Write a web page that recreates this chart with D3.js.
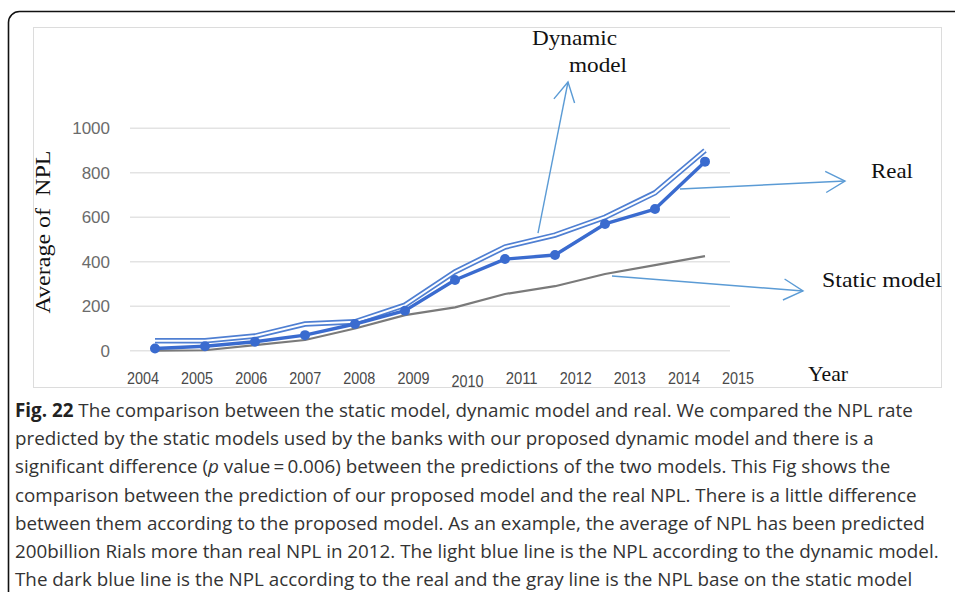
<!DOCTYPE html>
<html><head><meta charset="utf-8">
<script src="https://cdn.jsdelivr.net/npm/d3@7"></script>
<style>
html,body{margin:0;padding:0;background:#fff;}
svg{display:block;}
</style></head>
<body>
<svg id="c" width="955" height="592"></svg>
<script>
// ---- data ----
const years = [2004,2005,2006,2007,2008,2009,2010,2011,2012,2013,2014,2015];
const realNPL    = [10, 20, 40, 70, 120, 180, 318, 412, 430, 570, 637, 850];
const dynamicNPL = [45, 45, 66, 120, 130, 205, 355, 466, 520, 600, 710, 900];
const staticNPL  = [0, 2, 25, 48, 100, 160, 195, 255, 290, 345, 385, 425];
const yTicks = [0, 200, 400, 600, 800, 1000];
const xTickLabels = ["2004","2005","2006","2007","2008","2009","2010","2011","2012","2013","2014","2015"];
const captionLines = [
  [{t:"Fig. 22",b:1},{t:" The comparison between the static model, dynamic model and real. We compared the NPL rate"}],
  [{t:"predicted by the static models used by the banks with our proposed dynamic model and there is a"}],
  [{t:"significant difference ("},{t:"p",i:1},{t:" value\u2009=\u20090.006) between the predictions of the two models. This Fig shows the"}],
  [{t:"comparison between the prediction of our proposed model and the real NPL. There is a little difference"}],
  [{t:"between them according to the proposed model. As an example, the average of NPL has been predicted"}],
  [{t:"200billion Rials more than real NPL in 2012. The light blue line is the NPL according to the dynamic model."}],
  [{t:"The dark blue line is the NPL according to the real and the gray line is the NPL base on the static model"}]
];

const svg = d3.select("#c");
svg.append("rect").attr("width",955).attr("height",592).attr("fill","#fff");

// outer rounded frame
svg.append("rect").attr("x",8.5).attr("y",11.5).attr("width",1000).attr("height",595)
  .attr("rx",11).attr("fill","none").attr("stroke","#111").attr("stroke-width",1.6);

// chart panel
svg.append("rect").attr("x",33.5).attr("y",27.5).attr("width",908).attr("height",360)
  .attr("fill","#fff").attr("stroke","#dcdcdc").attr("stroke-width",1);

const x = d3.scaleBand().domain(years).range([130,730]).padding(0);
const cx = d => x(d) + x.bandwidth()/2;
const y = d3.scaleLinear().domain([0,1000]).range([350.7,128.3]);
const xl = d3.scaleLinear().domain([2004,2015]).range([143,738]);

// gridlines
svg.append("g").selectAll("line").data(yTicks).join("line")
  .attr("x1",130).attr("x2",730).attr("y1",d=>y(d)).attr("y2",d=>y(d))
  .attr("stroke","#e3e3e3").attr("stroke-width",1.5);

// y tick labels
svg.append("g").selectAll("text").data(yTicks).join("text")
  .attr("x",110).attr("y",d=>y(d)).attr("dy","0.36em").attr("text-anchor","end")
  .attr("font-family","Liberation Sans, Arial, sans-serif").attr("font-size",17)
  .attr("fill","#6b6b6b").text(d=>d);

// x tick labels
svg.append("g").selectAll("text").data(xTickLabels).join("text")
  .attr("x",d=>xl(+d)).attr("y",d=>d==="2010"?387:384).attr("text-anchor","middle")
  .attr("font-family","Liberation Sans, Arial, sans-serif").attr("font-size",16)
  .attr("textLength",32).attr("lengthAdjust","spacingAndGlyphs")
  .attr("fill","#4a4a4a").text(d=>d);

const line = d3.line().x((d,i)=>cx(years[i])).y(d=>y(d));

// static
svg.append("path").attr("d",line(staticNPL)).attr("fill","none")
  .attr("stroke","#7a7a7a").attr("stroke-width",2.2).attr("stroke-linejoin","round");
// dynamic (double line)
svg.append("path").attr("d",line(dynamicNPL)).attr("fill","none")
  .attr("stroke","#4f7fd2").attr("stroke-width",5.4).attr("stroke-linejoin","miter");
svg.append("path").attr("d",line(dynamicNPL)).attr("fill","none")
  .attr("stroke","#fff").attr("stroke-width",2).attr("stroke-linejoin","miter");
// real
svg.append("path").attr("d",line(realNPL)).attr("fill","none")
  .attr("stroke","#3a6bcf").attr("stroke-width",3.4).attr("stroke-linejoin","round");
svg.append("g").selectAll("circle").data(realNPL).join("circle")
  .attr("cx",(d,i)=>cx(years[i])).attr("cy",d=>y(d)).attr("r",5).attr("fill","#3a6bcf");

// annotation arrows
const arrowColor = "#5b9bd5";
function arrow(x1,y1,x2,y2){
  svg.append("line").attr("x1",x1).attr("y1",y1).attr("x2",x2).attr("y2",y2)
    .attr("stroke",arrowColor).attr("stroke-width",1.4);
  const a = Math.atan2(y2-y1,x2-x1), L=22, w=0.5;
  const p = [[x2-L*Math.cos(a-w), y2-L*Math.sin(a-w)],[x2,y2],[x2-L*Math.cos(a+w), y2-L*Math.sin(a+w)]];
  svg.append("path").attr("d",d3.line()(p)).attr("fill","none")
    .attr("stroke",arrowColor).attr("stroke-width",1.4);
}
arrow(cx(2011)+33, y(dynamicNPL[7])-14, 568, 82);
arrow(cx(2014)+25, y(realNPL[10])-20, 845, 181);
arrow(cx(2013)+7, y(staticNPL[9])+2, 803, 291);

// annotation labels
const serif = "Liberation Serif, Times New Roman, serif";
function lab(t,xx,yy,len){
  svg.append("text").attr("x",xx).attr("y",yy).attr("font-family",serif)
    .attr("font-size",22).attr("fill","#111")
    .attr("textLength",len).attr("lengthAdjust","spacingAndGlyphs").text(t);
}
lab("Dynamic",532,45,85);
lab("model",569,72,58);
lab("Real",871,178,42);
lab("Static model",822,287,120);
lab("Year",808,381,40);

// y axis title
svg.append("text").attr("transform","translate(50,232) rotate(-90)")
  .attr("text-anchor","middle").attr("font-family",serif).attr("font-size",22)
  .attr("textLength",163).attr("lengthAdjust","spacingAndGlyphs")
  .attr("fill","#111").attr("xml:space","preserve").text("Average of  NPL");

// caption
const cap = svg.append("g");
captionLines.forEach((ln,k)=>{
  const t = cap.append("text").attr("x",15).attr("y",417 + k*28.2)
    .attr("font-family","Open Sans, Noto Sans, sans-serif").attr("font-size",18)
    .attr("fill","#333").attr("xml:space","preserve");
  ln.forEach(s=>{
    const ts = t.append("tspan").text(s.t);
    if(s.b) ts.attr("font-weight","bold").attr("fill","#222");
    if(s.i) ts.attr("font-style","italic");
  });
});
const first = cap.select("text").node();
const w0 = first.getComputedTextLength();
const fs = 18 * 898 / w0;
cap.selectAll("text").attr("font-size", fs);
</script>
</body></html>
